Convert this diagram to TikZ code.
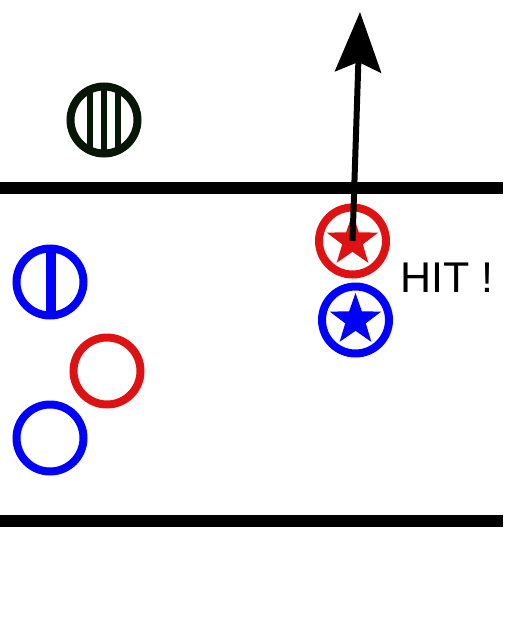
\documentclass[tikz,border=0pt]{standalone}
\usepackage{fontspec}
\setmainfont{Liberation Sans}
\usetikzlibrary{arrows.meta}
\definecolor{rred}{RGB}{222,18,18}
\definecolor{bblue}{RGB}{0,0,255}
\definecolor{dgreen}{RGB}{8,22,8}
\tikzset{
  ring/.style={circle, line width=8pt, minimum size=67pt, inner sep=0pt, fill=white},
  rail/.style={line width=12pt, black},
}
\newcommand{\mystar}[3]{% center node, radius, colour
  \fill[#3] ([shift={(-90:#2)}]#1.center)
    \foreach \k in {1,...,9}{ -- ([shift={(-90+36*\k:{(mod(\k,2)==1) ? (0.4*#2) : (#2)})}]#1.center) } -- cycle;
}
\begin{document}
\begin{tikzpicture}[x=1pt,y=-1pt]
\useasboundingbox (0,0) rectangle (508,619);
\fill[white] (0,0) rectangle (508,619);
% rails
\coordinate (tl) at (0,188);
\coordinate (tr) at (503,188);
\coordinate (bl) at (0,520.5);
\coordinate (br) at (503,520.5);
\draw[rail] (tl) -- (tr);
\draw[rail] (bl) -- (br);
% black hatched circle
\node[ring, draw=dgreen] (hc) at (104,120) {};
\begin{scope}
  \clip (hc.center) circle (31pt);
  \foreach \dx in {-14,0,14}{
    \fill[dgreen] ([xshift=\dx pt-3pt, yshift=-40pt]hc.center) rectangle ([xshift=\dx pt+3pt, yshift=40pt]hc.center);
  }
\end{scope}
% blue circle with bar
\node[ring, draw=bblue] (bh) at (50,282) {};
\begin{scope}
  \clip (bh.center) circle (31pt);
  \fill[bblue] ([xshift=-4.5pt, yshift=-40pt]bh.center) rectangle ([xshift=5.5pt, yshift=40pt]bh.center);
\end{scope}
% plain circles
\node[ring, draw=rred] (rc) at (107,371) {};
\node[ring, draw=bblue] (bc) at (50,438) {};
% star circles
\node[ring, draw=rred] (rs) at (352.5,241) {};
\mystar{rs}{27}{rred}
\node[ring, draw=bblue] (bs) at (355.5,320) {};
\mystar{bs}{27}{bblue}
% arrow
\coordinate (tip) at (360,12);
\draw[line width=6pt, -{Stealth[length=60pt, width=46pt, inset=10pt]}] (rs.center) -- (tip);
% label
\node[anchor=base west, inner sep=0pt, font=\fontsize{43}{50}\selectfont] (hit) at (400,292) {HIT !};
\end{tikzpicture}
\end{document}
